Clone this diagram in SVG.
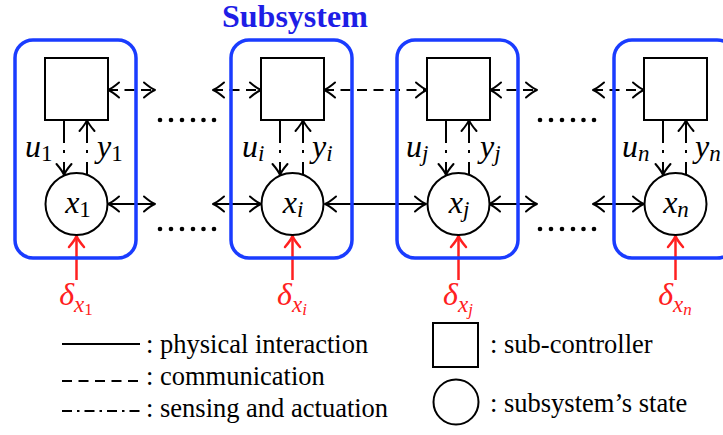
<svg xmlns="http://www.w3.org/2000/svg" width="723" height="435" viewBox="0 0 723 435">
<defs>
<marker id="ah" markerUnits="userSpaceOnUse" markerWidth="16" markerHeight="18" viewBox="-13 -9 16 18" refX="0" refY="0" orient="auto-start-reverse" overflow="visible">
<path d="M-11,-7.5 Q-4,-1.5 0,0 Q-4,1.5 -11,7.5" fill="none" stroke="#000" stroke-width="2" stroke-linecap="round" stroke-linejoin="round"/>
</marker>
<marker id="ahr" markerUnits="userSpaceOnUse" markerWidth="16" markerHeight="18" viewBox="-13 -9 16 18" refX="0" refY="0" orient="auto-start-reverse" overflow="visible">
<path d="M-11,-7.5 Q-4,-1.5 0,0 Q-4,1.5 -11,7.5" fill="none" stroke="#ff2020" stroke-width="2.5" stroke-linecap="round" stroke-linejoin="round"/>
</marker>
</defs>

<text x="222" y="27" font-family="Liberation Serif" style="font-family:'Liberation Serif',serif !important" font-weight="bold" font-size="32" fill="#1e1ee6">Subsystem</text>

<g id="connectors" fill="none" stroke="#000" stroke-width="2">
<g stroke-dasharray="10 6.5">
<line x1="108" y1="90" x2="155" y2="90" marker-start="url(#ah)" marker-end="url(#ah)"/>
<line x1="213" y1="90" x2="261" y2="90" marker-start="url(#ah)" marker-end="url(#ah)"/>
<line x1="324" y1="90" x2="427" y2="90" marker-start="url(#ah)" marker-end="url(#ah)"/>
<line x1="490" y1="90" x2="537" y2="90" marker-start="url(#ah)" marker-end="url(#ah)"/>
<line x1="593" y1="90" x2="644" y2="90" marker-start="url(#ah)" marker-end="url(#ah)"/>
</g>
<line x1="108" y1="204" x2="155" y2="204" marker-start="url(#ah)" marker-end="url(#ah)"/>
<line x1="213" y1="204" x2="261" y2="204" marker-start="url(#ah)" marker-end="url(#ah)"/>
<line x1="325" y1="204" x2="426" y2="204" marker-start="url(#ah)" marker-end="url(#ah)"/>
<line x1="489" y1="204" x2="537" y2="204" marker-start="url(#ah)" marker-end="url(#ah)"/>
<line x1="593" y1="204" x2="644" y2="204" marker-start="url(#ah)" marker-end="url(#ah)"/>
<g stroke-dasharray="23 7 3 9 40">
<line x1="64" y1="120" x2="64" y2="175" marker-end="url(#ah)"/>
<line x1="87" y1="120" x2="87" y2="175" marker-start="url(#ah)"/>
<line x1="280" y1="120" x2="280" y2="175" marker-end="url(#ah)"/>
<line x1="303" y1="120" x2="303" y2="175" marker-start="url(#ah)"/>
<line x1="446" y1="120" x2="446" y2="175" marker-end="url(#ah)"/>
<line x1="469" y1="120" x2="469" y2="175" marker-start="url(#ah)"/>
<line x1="663" y1="120" x2="663" y2="175" marker-end="url(#ah)"/>
<line x1="686" y1="120" x2="686" y2="175" marker-start="url(#ah)"/>
</g>
<g stroke="#ff2020" stroke-width="2.5">
<line x1="76.5" y1="280" x2="76.5" y2="236" marker-end="url(#ahr)"/>
<line x1="292.5" y1="280" x2="292.5" y2="236" marker-end="url(#ahr)"/>
<line x1="458.5" y1="280" x2="458.5" y2="236" marker-end="url(#ahr)"/>
<line x1="675.5" y1="280" x2="675.5" y2="236" marker-end="url(#ahr)"/>
</g>
</g>

<g id="dots" fill="#000">
<circle cx="160" cy="120" r="2.3"/><circle cx="171" cy="120" r="2.3"/><circle cx="182" cy="120" r="2.3"/><circle cx="193" cy="120" r="2.3"/><circle cx="203.5" cy="120" r="2.3"/><circle cx="214" cy="120" r="2.3"/>
<circle cx="160" cy="229" r="2.3"/><circle cx="171" cy="229" r="2.3"/><circle cx="182" cy="229" r="2.3"/><circle cx="193" cy="229" r="2.3"/><circle cx="203.5" cy="229" r="2.3"/><circle cx="214" cy="229" r="2.3"/>
<circle cx="540" cy="120" r="2.3"/><circle cx="551" cy="120" r="2.3"/><circle cx="562" cy="120" r="2.3"/><circle cx="573" cy="120" r="2.3"/><circle cx="583.5" cy="120" r="2.3"/><circle cx="594" cy="120" r="2.3"/>
<circle cx="540" cy="229" r="2.3"/><circle cx="551" cy="229" r="2.3"/><circle cx="562" cy="229" r="2.3"/><circle cx="573" cy="229" r="2.3"/><circle cx="583.5" cy="229" r="2.3"/><circle cx="594" cy="229" r="2.3"/>
</g>

<g id="subsystem-1">
<rect x="15" y="40" width="121" height="218" rx="18" fill="none" stroke="#1a3cff" stroke-width="3.5"/>
<rect x="45" y="58" width="63" height="62" fill="#fff" stroke="#000" stroke-width="2"/>
<circle cx="76.5" cy="204" r="31" fill="#fff" stroke="#000" stroke-width="2"/>
<text x="78" y="213" text-anchor="middle" font-family="Liberation Serif" style="font-family:'Liberation Serif',serif !important" font-style="italic" font-size="32">x<tspan font-style="normal" font-size="23" dy="4">1</tspan></text>
<text x="25" y="157" font-family="Liberation Serif" style="font-family:'Liberation Serif',serif !important" font-style="italic" font-size="32">u<tspan font-style="normal" font-size="23" dy="4">1</tspan></text>
<text x="97" y="157" font-family="Liberation Serif" style="font-family:'Liberation Serif',serif !important" font-style="italic" font-size="32">y<tspan font-style="normal" font-size="23" dy="4">1</tspan></text>
<text x="76" y="305" text-anchor="middle" font-family="Liberation Serif" style="font-family:'Liberation Serif',serif !important" font-style="italic" font-size="32" fill="#ff2020">δ<tspan font-size="23" dy="7">x</tspan><tspan font-style="normal" font-size="17" dy="3">1</tspan></text>
</g>

<g id="subsystem-i">
<rect x="231" y="40" width="121" height="218" rx="18" fill="none" stroke="#1a3cff" stroke-width="3.5"/>
<rect x="261" y="58" width="63" height="62" fill="#fff" stroke="#000" stroke-width="2"/>
<circle cx="292.5" cy="204" r="31" fill="#fff" stroke="#000" stroke-width="2"/>
<text x="293" y="213" text-anchor="middle" font-family="Liberation Serif" style="font-family:'Liberation Serif',serif !important" font-style="italic" font-size="32">x<tspan font-size="23" dy="4">i</tspan></text>
<text x="242" y="157" font-family="Liberation Serif" style="font-family:'Liberation Serif',serif !important" font-style="italic" font-size="32">u<tspan font-size="23" dy="4">i</tspan></text>
<text x="312" y="157" font-family="Liberation Serif" style="font-family:'Liberation Serif',serif !important" font-style="italic" font-size="32">y<tspan font-size="23" dy="4">i</tspan></text>
<text x="292" y="305" text-anchor="middle" font-family="Liberation Serif" style="font-family:'Liberation Serif',serif !important" font-style="italic" font-size="32" fill="#ff2020">δ<tspan font-size="23" dy="7">x</tspan><tspan font-size="17" dy="3">i</tspan></text>
</g>

<g id="subsystem-j">
<rect x="397" y="40" width="121" height="218" rx="18" fill="none" stroke="#1a3cff" stroke-width="3.5"/>
<rect x="427" y="58" width="63" height="62" fill="#fff" stroke="#000" stroke-width="2"/>
<circle cx="458.5" cy="204" r="31" fill="#fff" stroke="#000" stroke-width="2"/>
<text x="459" y="213" text-anchor="middle" font-family="Liberation Serif" style="font-family:'Liberation Serif',serif !important" font-style="italic" font-size="32">x<tspan font-size="23" dy="4">j</tspan></text>
<text x="406" y="157" font-family="Liberation Serif" style="font-family:'Liberation Serif',serif !important" font-style="italic" font-size="32">u<tspan font-size="23" dy="4">j</tspan></text>
<text x="480" y="157" font-family="Liberation Serif" style="font-family:'Liberation Serif',serif !important" font-style="italic" font-size="32">y<tspan font-size="23" dy="4">j</tspan></text>
<text x="458" y="305" text-anchor="middle" font-family="Liberation Serif" style="font-family:'Liberation Serif',serif !important" font-style="italic" font-size="32" fill="#ff2020">δ<tspan font-size="23" dy="7">x</tspan><tspan font-size="17" dy="3">j</tspan></text>
</g>

<g id="subsystem-n">
<rect x="614" y="40" width="121" height="218" rx="18" fill="none" stroke="#1a3cff" stroke-width="3.5"/>
<rect x="644" y="58" width="63" height="62" fill="#fff" stroke="#000" stroke-width="2"/>
<circle cx="675.5" cy="204" r="31" fill="#fff" stroke="#000" stroke-width="2"/>
<text x="676" y="213" text-anchor="middle" font-family="Liberation Serif" style="font-family:'Liberation Serif',serif !important" font-style="italic" font-size="32">x<tspan font-size="23" dy="4">n</tspan></text>
<text x="622" y="157" font-family="Liberation Serif" style="font-family:'Liberation Serif',serif !important" font-style="italic" font-size="32">u<tspan font-size="23" dy="4">n</tspan></text>
<text x="695" y="157" font-family="Liberation Serif" style="font-family:'Liberation Serif',serif !important" font-style="italic" font-size="32">y<tspan font-size="23" dy="4">n</tspan></text>
<text x="675" y="305" text-anchor="middle" font-family="Liberation Serif" style="font-family:'Liberation Serif',serif !important" font-style="italic" font-size="32" fill="#ff2020">δ<tspan font-size="23" dy="7">x</tspan><tspan font-size="17" dy="3">n</tspan></text>
</g>

<g id="legend">
<line x1="62" y1="344" x2="140" y2="344" stroke="#000" stroke-width="2"/>
<line x1="62" y1="381" x2="140" y2="381" stroke="#000" stroke-width="2" stroke-dasharray="10 6.5"/>
<line x1="62" y1="411" x2="140" y2="411" stroke="#000" stroke-width="2" stroke-dasharray="10 5 2.5 5"/>
<text x="146" y="353" font-family="Liberation Serif" style="font-family:'Liberation Serif',serif !important" font-size="26.5">: physical interaction</text>
<text x="146" y="385" font-family="Liberation Serif" style="font-family:'Liberation Serif',serif !important" font-size="26.5">: communication</text>
<text x="146" y="417" font-family="Liberation Serif" style="font-family:'Liberation Serif',serif !important" font-size="26.5">: sensing and actuation</text>
<rect x="433" y="323" width="45" height="44" fill="#fff" stroke="#000" stroke-width="2"/>
<circle cx="456" cy="402" r="22.5" fill="#fff" stroke="#000" stroke-width="2"/>
<text x="490" y="353" font-family="Liberation Serif" style="font-family:'Liberation Serif',serif !important" font-size="26.5">: sub-controller</text>
<text x="490" y="412" font-family="Liberation Serif" style="font-family:'Liberation Serif',serif !important" font-size="26.5">: subsystem’s state</text>
</g>
</svg>
